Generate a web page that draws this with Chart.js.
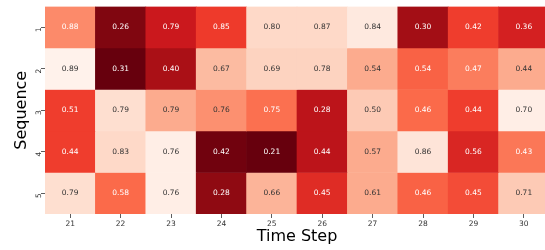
<!DOCTYPE html>
<html>
<head>
<meta charset="utf-8">
<script src="https://cdn.jsdelivr.net/npm/chart.js@4.4.0/dist/chart.umd.min.js"></script>
<style>
    html, body { margin: 0; padding: 0; background: #fff; overflow: hidden; }
    #wrap { width: 549px; height: 250px; }
</style>
</head>
<body>
<div id="wrap"><canvas id="heatmap"></canvas></div>
<script>
// Heatmap data
const timeSteps = ['21', '22', '23', '24', '25', '26', '27', '28', '29', '30'];
const sequences = ['1', '2', '3', '4', '5'];

// numbers printed in each cell
const seq1Values = [0.88, 0.26, 0.79, 0.85, 0.80, 0.87, 0.84, 0.30, 0.42, 0.36];
const seq2Values = [0.89, 0.31, 0.40, 0.67, 0.69, 0.78, 0.54, 0.54, 0.47, 0.44];
const seq3Values = [0.51, 0.79, 0.79, 0.76, 0.75, 0.28, 0.50, 0.46, 0.44, 0.70];
const seq4Values = [0.44, 0.83, 0.76, 0.42, 0.21, 0.44, 0.57, 0.86, 0.56, 0.43];
const seq5Values = [0.79, 0.58, 0.76, 0.28, 0.66, 0.45, 0.61, 0.46, 0.45, 0.71];

// colour intensity of each cell (0..1 on the Reds map)
const seq1Shade = [0.40, 0.95, 0.75, 0.63, 0.15, 0.15, 0.07, 0.88, 0.62, 0.72];
const seq2Shade = [0.02, 1.00, 0.86, 0.25, 0.17, 0.17, 0.30, 0.52, 0.44, 0.30];
const seq3Shade = [0.62, 0.13, 0.30, 0.38, 0.48, 0.80, 0.20, 0.50, 0.62, 0.04];
const seq4Shade = [0.62, 0.15, 0.04, 0.98, 1.00, 0.80, 0.30, 0.10, 0.70, 0.46];
const seq5Shade = [0.13, 0.50, 0.04, 0.92, 0.27, 0.68, 0.30, 0.52, 0.58, 0.20];

const allValues = [seq1Values, seq2Values, seq3Values, seq4Values, seq5Values];
const allShades = [seq1Shade, seq2Shade, seq3Shade, seq4Shade, seq5Shade];

const FONT = 'DejaVu Sans';
const redsStops = ['#fff5f0', '#fee0d2', '#fcbba1', '#fc9272', '#fb6a4a', '#ef3b2c', '#cb181d', '#a50f15', '#67000d'];

function hexToRgb(hex) {
    return [1, 3, 5].map(i => parseInt(hex.substr(i, 2), 16));
}

function redsRgb(t) {
    const pos = Math.max(0, Math.min(1, t)) * (redsStops.length - 1);
    const i = Math.min(Math.floor(pos), redsStops.length - 2);
    const f = pos - i;
    const a = hexToRgb(redsStops[i]);
    const b = hexToRgb(redsStops[i + 1]);
    return a.map((c, k) => Math.round(c + (b[k] - c) * f));
}

function redsColor(t) {
    const [r, g, b] = redsRgb(t);
    return `rgb(${r},${g},${b})`;
}

function luminance(rgb) {
    const lin = rgb.map(c => {
        c = c / 255;
        return c <= 0.03928 ? c / 12.92 : Math.pow((c + 0.055) / 1.055, 2.4);
    });
    return 0.2126 * lin[0] + 0.7152 * lin[1] + 0.0722 * lin[2];
}

const datasets = sequences.map((seq, row) => ({
    label: 'Sequence ' + seq,
    data: timeSteps.map(() => [row, row + 1]),
    backgroundColor: allShades[row].map(redsColor),
    borderWidth: 0,
    barPercentage: 1,
    categoryPercentage: 1,
    grouped: false
}));

// write the value in the middle of every cell
const cellLabels = {
    id: 'cellLabels',
    afterDatasetsDraw(chart) {
        const ctx = chart.ctx;
        ctx.save();
        ctx.font = `7.5px "${FONT}"`;
        ctx.textAlign = 'center';
        ctx.textBaseline = 'middle';
        chart.data.datasets.forEach((ds, row) => {
            chart.getDatasetMeta(row).data.forEach((bar, col) => {
                const { x, y, base } = bar.getProps(['x', 'y', 'base'], true);
                const lum = luminance(redsRgb(allShades[row][col]));
                ctx.fillStyle = lum > 0.408 ? '#333333' : '#ffffff';
                ctx.fillText(allValues[row][col].toFixed(2), x, (y + base) / 2);
            });
        });
        ctx.restore();
    }
};

new Chart(document.getElementById('heatmap'), {
    type: 'bar',
    data: { labels: timeSteps, datasets: datasets },
    plugins: [cellLabels],
    options: {
        responsive: true,
        maintainAspectRatio: false,
        animation: false,
        layout: { padding: { top: 5, right: 0, left: 0, bottom: 0 } },
        plugins: {
            legend: { display: false },
            tooltip: { enabled: false }
        },
        scales: {
            x: {
                type: 'category',
                grid: { offset: false, drawOnChartArea: false, drawTicks: true, tickLength: 4, color: '#333', lineWidth: 0.8 },
                border: { display: false },
                ticks: { color: '#333', font: { family: FONT, size: 7.5 }, padding: 2, maxRotation: 0 },
                title: {
                    display: true,
                    text: 'Time Step',
                    color: '#000',
                    font: { family: FONT, size: 16 },
                    padding: { top: 0, bottom: 3.4 }
                },
                afterFit(scale) { scale.height = 36; }
            },
            y: {
                type: 'linear',
                min: 0,
                max: 5,
                reverse: true,
                afterBuildTicks(scale) {
                    scale.ticks = sequences.map((s, i) => ({ value: i + 0.5 }));
                },
                grid: { drawOnChartArea: false, drawTicks: true, tickLength: 4, color: '#333', lineWidth: 0.8 },
                border: { display: false },
                ticks: {
                    color: '#333',
                    font: { family: FONT, size: 7.5 },
                    padding: 2,
                    minRotation: 90,
                    maxRotation: 90,
                    callback: (value, index) => sequences[index]
                },
                title: {
                    display: true,
                    text: 'Sequence',
                    color: '#000',
                    font: { family: FONT, size: 16 },
                    padding: { top: 12.4, bottom: 0 }
                },
                afterFit(scale) { scale.width = 45; }
            }
        }
    }
});
</script>
</body>
</html>
